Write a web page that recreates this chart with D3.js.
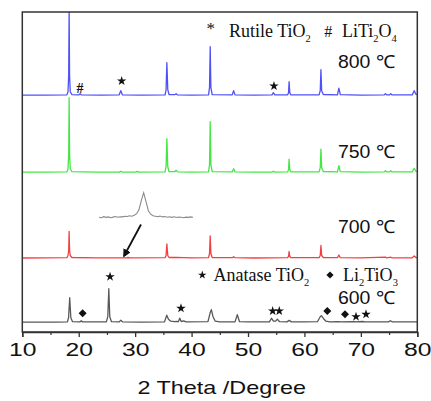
<!DOCTYPE html>
<html><head><meta charset="utf-8">
<script src="https://cdn.jsdelivr.net/npm/d3@7"></script>
<style>body{margin:0;background:#fff}svg{display:block}</style>
</head><body><svg id="c" width="431" height="401"></svg>
<script>
// ---- data (2θ in degrees, intensity in arbitrary units) ----
const xTicks = [10, 20, 30, 40, 50, 60, 70, 80];
const xMinorTicks = [15, 25, 35, 45, 55, 65, 75];
const seriesNames = ["800 ℃", "750 ℃", "700 ℃", "600 ℃"];
const seriesOffsets = [236.3, 159.3, 73.5, 9.3];
const seriesColors = ["#5050f8", "#44e644", "#f24040", "#585858"];

const pattern800 = [[10,0.5],[14,0.6],[17.9,0.8],[18.1,4],[18.22,20],[18.3,86],[18.38,20],[18.5,4],[18.8,1],[20.0,0.8],[20.25,2],[20.5,0.8],[24,0.6],[27.15,0.8],[27.45,5],[27.75,0.8],[31,0.5],[35.3,0.8],[35.48,6],[35.62,33],[35.78,6],[36,1.2],[37.0,1],[37.25,2],[37.5,0.8],[40,0.6],[43.0,0.8],[43.18,8],[43.3,49],[43.42,8],[43.65,1],[47.2,0.8],[47.45,5],[47.7,0.8],[51,0.5],[54.25,0.8],[54.5,3],[54.75,0.8],[57.0,0.8],[57.18,3],[57.28,14],[57.4,3],[57.6,0.8],[62.6,0.8],[62.8,5],[62.92,26],[63.05,5],[63.35,1.2],[65.85,0.8],[66.1,7.5],[66.35,1],[70,0.6],[74.15,0.8],[74.35,2],[74.6,0.8],[75.1,0.8],[75.3,2],[75.5,0.8],[79.1,0.8],[79.45,5],[79.75,1.5],[80,1]];
const pattern750 = [[10,0.5],[14,0.6],[17.9,0.8],[18.1,4],[18.22,18],[18.3,75],[18.38,18],[18.5,4],[18.8,1],[23,0.6],[27.2,0.6],[27.45,1.5],[27.7,0.6],[30.1,0.6],[30.35,1.3],[30.6,0.6],[35.3,0.8],[35.48,6],[35.62,34],[35.78,6],[36,1.2],[37.0,1],[37.25,2.5],[37.5,0.8],[40,0.6],[43.0,0.8],[43.18,8],[43.3,51],[43.42,8],[43.65,1],[47.2,0.8],[47.45,4],[47.7,0.8],[51,0.5],[54.25,0.6],[54.5,1.5],[54.75,0.6],[57.0,0.8],[57.18,3],[57.28,13.5],[57.4,3],[57.6,0.8],[62.6,0.8],[62.8,5],[62.92,23.5],[63.05,5],[63.35,1.2],[65.85,0.8],[66.1,7],[66.35,1],[70,0.6],[74.15,0.8],[74.35,2],[74.6,0.8],[75.1,0.8],[75.3,2],[75.5,0.8],[79.1,0.8],[79.45,4.5],[79.75,1.5],[80,1]];
const pattern700 = [[10,0.5],[14,0.6],[17.9,0.8],[18.1,3],[18.22,8],[18.3,27],[18.38,8],[18.5,3],[18.8,1],[23,0.6],[28.5,0.6],[28.75,1],[29,0.6],[35.3,0.8],[35.48,3],[35.62,14.5],[35.78,3],[36,1],[37.25,1.2],[40,0.6],[43.0,0.8],[43.18,5],[43.3,22.5],[43.42,5],[43.65,1],[47.2,0.8],[47.45,1.8],[47.7,0.8],[51,0.5],[57.0,0.8],[57.18,2],[57.28,7],[57.4,2],[57.6,0.8],[62.6,0.8],[62.8,3],[62.92,13],[63.05,3],[63.35,1],[65.85,0.8],[66.1,3.5],[66.35,0.8],[70,0.6],[74.35,1.3],[74.6,0.7],[75.3,1.3],[75.5,0.7],[79.1,0.7],[79.45,2.5],[79.75,1],[80,0.8]];
const pattern600 = [[10,0.5],[16,0.6],[18.0,0.8],[18.2,5],[18.4,25],[18.6,5],[18.9,1],[20.2,0.8],[20.45,1.8],[20.7,0.8],[24.9,0.8],[25.15,6],[25.33,34],[25.5,6],[25.8,1],[27.2,0.8],[27.45,2.5],[27.8,0.8],[31,0.6],[35.2,0.8],[35.6,7.5],[35.9,3.5],[36.3,1.5],[37.0,1],[37.3,1.2],[37.65,1],[37.9,4.5],[38.15,1.2],[38.6,1.8],[39,0.8],[42.9,1],[43.3,10],[43.5,13],[43.8,6],[44.2,1.5],[45,0.8],[47.7,0.8],[48.1,8],[48.5,1],[50,0.8],[53.8,0.8],[54.15,4.5],[54.5,1.5],[54.9,1.5],[55.2,3.5],[55.6,1],[56.9,0.8],[57.3,2.3],[57.7,0.8],[60,0.8],[62.3,1],[62.8,6],[63.0,7],[63.4,4],[63.8,1.5],[64.5,0.8],[66.0,1],[66.4,0.8],[68.8,1],[69.2,0.8],[70.3,1.2],[70.7,0.8],[74.9,0.8],[75.2,2],[75.6,0.8],[80,0.8]];
const patterns = [pattern800, pattern750, pattern700, pattern600];

// inset: magnified region of the 700 ℃ pattern (index, intensity)
const insetValues = [0.5,0,1,0.3,0.8,0,0.6,1.2,0.4,1,0.8,1.5,1.2,2,1.5,2.5,4,8,17,25,16,7,3.5,2,1.5,1,1.6,0.8,1.2,0.5,1,0.3,0.9,0.2,0.7,0.5,0,0.6,0.3,0.8,0.4];

// phase markers: [2θ, level (absolute a.u.)]
const starMarks800 = [[27.61, 251], [54.6, 246]];
const hashMarks800 = [[20.22, 244.3]];
const starMarks600 = [[25.55, 55.3], [38.12, 23.7], [54.37, 21], [55.54, 21], [69.14, 15.3], [70.91, 17.7]];
const diamondMarks600 = [[20.69, 18.7], [64.05, 21], [67.19, 17.7]];

// ---- drawing ----
const svg = d3.select("#c");
const L = 22.3, R = 417.3, T = 12, B = 332;
const x = d3.scaleLinear().domain([10, 80]).range([L, R]);
const y = d3.scaleLinear().domain([0, 320]).range([B, T]);
const SANS = "'Liberation Sans', Arial, sans-serif";
const SERIF = "'Liberation Serif', 'Times New Roman', serif";

svg.append("clipPath").attr("id", "clip").append("rect")
  .attr("x", L).attr("y", T).attr("width", R - L).attr("height", B - T);

const line = d3.line().x(d => x(d[0])).y(d => y(d[1]));
const g = svg.append("g").attr("clip-path", "url(#clip)");
patterns.forEach((p, i) => {
  g.append("path")
    .datum(p.map(d => [d[0], d[1] + seriesOffsets[i]]))
    .attr("d", line).attr("fill", "none")
    .attr("stroke", seriesColors[i]).attr("stroke-width", 1.3)
    .attr("stroke-linejoin", "round");
});

// frame
svg.append("rect").attr("x", L).attr("y", T).attr("width", R - L).attr("height", B - T)
  .attr("fill", "none").attr("stroke", "#333").attr("stroke-width", 1.5);

// axis
const ax = svg.append("g").attr("transform", `translate(0,${B})`)
  .call(d3.axisBottom(x).tickValues(xTicks).tickSize(5).tickPadding(5).tickFormat(d3.format("d")));
ax.select(".domain").attr("stroke", "#333").attr("stroke-width", 1.5);
ax.selectAll(".tick line").attr("stroke", "#333").attr("stroke-width", 1.3);
ax.selectAll(".tick text").attr("font-family", SANS).attr("font-size", 19).attr("fill", "#111")
  .attr("transform", "scale(1.3,1)").attr("dy", "0.75em");
svg.append("g").attr("transform", `translate(0,${B})`)
  .call(d3.axisBottom(x).tickValues(xMinorTicks).tickSize(3).tickFormat(""))
  .call(s => { s.select(".domain").remove(); s.selectAll("line").attr("stroke", "#333").attr("stroke-width", 1.2); });

const cx = (L + R) / 2 + 2;
svg.append("text").attr("x", cx).attr("y", 394.5)
  .attr("text-anchor", "middle").attr("font-family", SANS).attr("font-size", 18).attr("fill", "#111")
  .attr("transform", `translate(${cx},0) scale(1.3,1) translate(${-cx},0)`)
  .text("2 Theta /Degree");

// temperature labels
const labelY = [68.3, 158.3, 233.3, 304];
seriesNames.forEach((n, i) => {
  svg.append("text").attr("x", 0).attr("y", 0)
    .attr("transform", `translate(338,${labelY[i]}) scale(1.08,1)`)
    .attr("font-family", SANS).attr("font-size", 18).attr("fill", "#111").text(n);
});

// markers
const star = d3.symbol().type(d3.symbolStar).size(28);
const diamond = d3.symbol().type(d3.symbolSquare).size(32);
starMarks800.concat(starMarks600).forEach(d => {
  svg.append("path").attr("d", star()).attr("fill", "#111")
    .attr("transform", `translate(${x(d[0])},${y(d[1])})`);
});
diamondMarks600.forEach(d => {
  svg.append("path").attr("d", diamond()).attr("fill", "#111")
    .attr("transform", `translate(${x(d[0])},${y(d[1])}) rotate(45)`);
});
hashMarks800.forEach(d => {
  svg.append("text").attr("x", x(d[0])).attr("y", y(d[1]) + 5).attr("text-anchor", "middle")
    .attr("font-family", SERIF).attr("font-weight", "bold").attr("font-size", 14).attr("fill", "#111").text("#");
});

// legends (serif with subscripts)
function formula(xp, yp, parts) {
  const t = svg.append("text").attr("x", xp).attr("y", yp)
    .attr("font-family", SERIF).attr("font-size", 18).attr("fill", "#111");
  parts.forEach(p => {
    if (p.sub) t.append("tspan").attr("font-size", 10.5).attr("dy", 5).text(p.t);
    else t.append("tspan").attr("dy", p.after ? -5 : 0).text(p.t);
  });
}
svg.append("text").attr("x", 210.7).attr("y", 34).attr("text-anchor", "middle")
  .attr("font-family", SERIF).attr("font-size", 17).attr("fill", "#111").text("*");
formula(229, 36.7, [{t: "Rutile TiO"}, {t: "2", sub: true}]);
svg.append("text").attr("x", 328.3).attr("y", 36.5).attr("text-anchor", "middle")
  .attr("font-family", SERIF).attr("font-size", 16).attr("fill", "#111").text("#");
formula(342, 36.7, [{t: "LiTi"}, {t: "2", sub: true}, {t: "O", after: true}, {t: "4", sub: true}]);

svg.append("path").attr("d", d3.symbol().type(d3.symbolStar).size(22)()).attr("fill", "#111")
  .attr("transform", "translate(202.3,275)");
formula(213.5, 280.5, [{t: "Anatase TiO"}, {t: "2", sub: true}]);
svg.append("path").attr("d", d3.symbol().type(d3.symbolSquare).size(26)()).attr("fill", "#111")
  .attr("transform", "translate(330,275) rotate(45)");
formula(343, 280.5, [{t: "Li"}, {t: "2", sub: true}, {t: "TiO", after: true}, {t: "3", sub: true}]);

// inset
const ix = d3.scaleLinear().domain([0, insetValues.length - 1]).range([99, 193]);
const iy = d3.scaleLinear().domain([0, 25]).range([217.7, 192.7]);
svg.append("path").datum(insetValues)
  .attr("d", d3.line().x((d, i) => ix(i)).y(d => iy(d)))
  .attr("fill", "none").attr("stroke", "#8a8a8a").attr("stroke-width", 1.1);

// arrow
svg.append("defs").append("marker").attr("id", "ah").attr("viewBox", "0 0 10 10")
  .attr("refX", 8).attr("refY", 5).attr("markerWidth", 4.5).attr("markerHeight", 4.5)
  .attr("orient", "auto").append("path").attr("d", "M0,0L10,5L0,10z").attr("fill", "#111");
svg.append("line").attr("x1", 141).attr("y1", 224.5).attr("x2", 124).attr("y2", 256)
  .attr("stroke", "#111").attr("stroke-width", 1.8).attr("marker-end", "url(#ah)");
</script></body></html>
